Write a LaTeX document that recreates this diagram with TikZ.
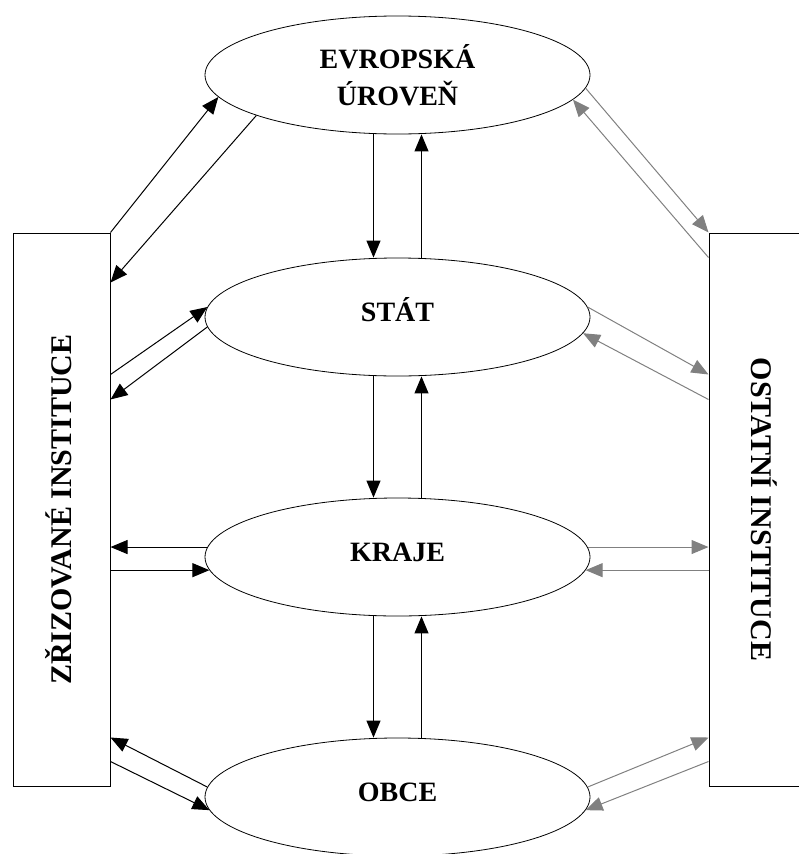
\documentclass[tikz,border=0pt]{standalone}
\usepackage{fontspec}
\setmainfont{Liberation Serif}
\usetikzlibrary{positioning,calc,arrows.meta,shapes.geometric}
\definecolor{ostgray}{gray}{0.5}

\begin{document}
\begin{tikzpicture}[x=1pt,y=-1pt,
  tier/.style={ellipse,draw=black,line width=0.8pt,minimum width=385pt,minimum height=118pt,align=center,font=\bfseries\fontsize{28}{37}\selectfont},
  single/.style={text height=18pt,text depth=10pt},
  inst/.style={draw=black,line width=1pt,minimum height=553pt,inner sep=0pt},
  sidetext/.style={font=\bfseries\fontsize{30}{34}\selectfont,inner sep=0pt},
  link/.style={line width=1pt,-{Triangle[length=17pt,width=14pt]}},
  glink/.style={link,draw=ostgray}]
		\useasboundingbox (0,0) rectangle (799,854);
		\node[tier] (evropa) at (397.5,75) {EVROPSKÁ\\ÚROVEŇ};
		\node[tier,single] (stat) at (397.5,317) {STÁT};
		\node[tier,single] (kraje) at (397.5,557) {KRAJE};
		\node[tier,single] (obce) at (397.5,797) {OBCE};
		\node[inst,minimum width=97pt] (zrizovane) at (61.5,509.5) {};
		\node[inst,minimum width=110pt] (ostatni) at (764,509.5) {};
		\node[sidetext,rotate=90] (zrizovanetext) at ([xshift=-3pt]zrizovane.center) {ZŘIZOVANÉ INSTITUCE};
		\node[sidetext,rotate=-90] (ostatnitext) at (ostatni.center) {OSTATNÍ INSTITUCE};
		\foreach \upper/\lower in {evropa/stat,stat/kraje,kraje/obce}{
			\draw[link] ([xshift=-24pt]\upper.south) -- ([xshift=-24pt]\lower.north);
			\draw[link] ([xshift=24pt]\lower.north) -- ([xshift=24pt]\upper.south);
		}
		\draw[link] (zrizovane.north east) -- (evropa.187);
		\draw[link] (evropa.196) -- ([yshift=-50pt]zrizovane.north east);
		\draw[glink] ([yshift=-25pt]ostatni.north west) -- (evropa.352);
		\draw[glink] (evropa.356) -- (ostatni.north west);
		\draw[link] ([yshift=-142pt]zrizovane.north east) -- (stat.177);
		\draw[link] (stat.183) -- ([yshift=-167pt]zrizovane.north east);
		\draw[glink] (stat.3) -- ([yshift=-142pt]ostatni.north west);
		\draw[glink] ([yshift=-167pt]ostatni.north west) -- (stat.355);
		\draw[link] (kraje.177) -- (kraje.177 -| zrizovane.east);
		\draw[link] (kraje.184 -| zrizovane.east) -- (kraje.184);
		\draw[glink] (kraje.3) -- (kraje.3 -| ostatni.west);
		\draw[glink] (kraje.356 -| ostatni.west) -- (kraje.356);
		\draw[link] (obce.177) -- ([yshift=-505pt]zrizovane.north east);
		\draw[link] ([yshift=-529pt]zrizovane.north east) -- (obce.184);
		\draw[glink] (obce.3) -- ([yshift=-505pt]ostatni.north west);
		\draw[glink] ([yshift=-529pt]ostatni.north west) -- (obce.356);
	\end{tikzpicture}
\end{document}
